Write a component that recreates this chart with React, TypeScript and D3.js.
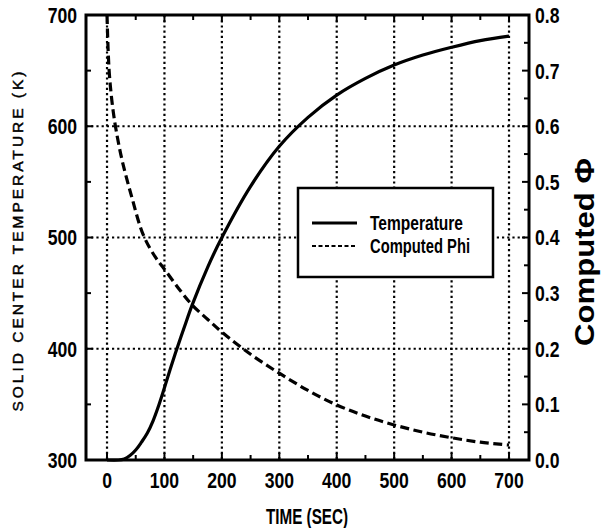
import { useLayoutEffect, useMemo } from 'react';
import * as d3 from 'd3';

// Temperature history (time in s, K)
const tempTime = [0, 20, 30, 40, 50, 60, 70, 80, 90, 100, 110, 122, 135, 148, 175, 200, 250, 300, 350, 400, 450, 500, 550, 600, 650, 700];
const tempValue = [300, 300, 301, 304, 309, 316, 324, 335, 349, 365, 381.5, 400.5, 420, 439, 473, 500, 546, 582, 608, 628, 643, 655, 664, 671, 677, 681];

// Computed phi history
const phiTime = [0, 2, 4, 7, 11, 16, 26, 43, 63, 84, 100, 125, 148, 175, 200, 250, 300, 350, 400, 450, 500, 550, 600, 650, 700];
const phiValue = [0.8, 0.735, 0.695, 0.66, 0.625, 0.592, 0.54, 0.473, 0.405, 0.365, 0.343, 0.308, 0.279, 0.253, 0.23, 0.19, 0.156, 0.125, 0.099, 0.079, 0.063, 0.05, 0.04, 0.032, 0.027];

const xTicks = [0, 100, 200, 300, 400, 500, 600, 700];
const xMinor = [50, 150, 250, 350, 450, 550, 650];
const tTicks = [300, 400, 500, 600, 700];
const tMinor = [350, 450, 550, 650];
const tGrid = [400, 500, 600];
const phiTicks = [0, 0.1, 0.2, 0.3, 0.4, 0.5, 0.6, 0.7, 0.8];
const phiMinor = [0.05, 0.15, 0.25, 0.35, 0.45, 0.55, 0.65, 0.75];

const legendItems = [
  { label: 'Temperature', dash: 'none', len: 93 },
  { label: 'Computed Phi', dash: '4 2.5', len: 100 },
];

const W = 605;
const H = 528;
const L = 86;
const R = 529;
const T = 15;
const B = 460;

const SANS = '"Liberation Sans", Arial, sans-serif';

// bold sans squeezed horizontally, stands in for the narrow plotter font
function Cond({ x, y, anchor, size = 22, sx = 0.8, children }: { x: number; y: number; anchor: 'start' | 'middle' | 'end'; size?: number; sx?: number; children: string }) {
  return (
    <text
      transform={`translate(${x},${y}) scale(${sx},1)`}
      textAnchor={anchor}
      dy="0.36em"
      fontFamily={SANS}
      fontWeight="bold"
      fontSize={size}
    >
      {children}
    </text>
  );
}

export default function App() {
  useLayoutEffect(() => {
    document.body.style.margin = '0';
  }, []);

  const { x, yT, yP, tempPath, phiPath } = useMemo(() => {
    const x = d3.scaleLinear().domain([-36.6, 734.8]).range([L, R]);
    const yT = d3.scaleLinear().domain([300, 700]).range([B, T]);
    const yP = d3.scaleLinear().domain([0, 0.8]).range([B, T]);
    const tempLine = d3
      .line<number>()
      .x((_, i) => x(tempTime[i]))
      .y((d) => yT(d))
      .curve(d3.curveCatmullRom.alpha(0.5));
    const phiLine = d3
      .line<number>()
      .x((_, i) => x(phiTime[i]))
      .y((d) => yP(d))
      .curve(d3.curveCatmullRom.alpha(0.5));
    return {
      x,
      yT,
      yP,
      tempPath: tempLine(tempValue) ?? '',
      phiPath: phiLine(phiValue) ?? '',
    };
  }, []);

  const grid = { stroke: '#000', strokeWidth: 2.2, strokeDasharray: '2.2 3' };

  return (
    <svg width={W} height={H} style={{ display: 'block', background: '#fff' }}>
      {/* gridlines */}
      {xTicks.map((v) => (
        <line key={'gx' + v} x1={x(v)} x2={x(v)} y1={T} y2={B} {...grid} />
      ))}
      {tGrid.map((v) => (
        <line key={'gy' + v} x1={L} x2={R} y1={yT(v)} y2={yT(v)} {...grid} />
      ))}

      {/* ticks, all pointing inward */}
      {xTicks.concat(xMinor).map((v) => {
        const len = xTicks.includes(v) ? 7 : 5;
        return (
          <g key={'tx' + v} stroke="#000" strokeWidth={2}>
            <line x1={x(v)} x2={x(v)} y1={B} y2={B - len} />
            <line x1={x(v)} x2={x(v)} y1={T} y2={T + len} />
          </g>
        );
      })}
      {tTicks.concat(tMinor).map((v) => (
        <line key={'ty' + v} x1={L} x2={L + (tTicks.includes(v) ? 7 : 5)} y1={yT(v)} y2={yT(v)} stroke="#000" strokeWidth={2} />
      ))}
      {phiTicks.concat(phiMinor).map((v) => (
        <line key={'tp' + v} x1={R} x2={R - (phiTicks.includes(v) ? 7 : 5)} y1={yP(v)} y2={yP(v)} stroke="#000" strokeWidth={2} />
      ))}

      {/* curves */}
      <path d={tempPath} fill="none" stroke="#000" strokeWidth={3.2} />
      <path d={phiPath} fill="none" stroke="#000" strokeWidth={3.2} strokeDasharray="9 4.5" />

      {/* frame */}
      <rect x={L} y={T} width={R - L} height={B - T} fill="none" stroke="#000" strokeWidth={3} />

      {/* tick labels */}
      {xTicks.map((v) => (
        <Cond key={'lx' + v} x={x(v)} y={480} anchor="middle">
          {String(v)}
        </Cond>
      ))}
      {tTicks.map((v) => (
        <Cond key={'lt' + v} x={77} y={yT(v)} anchor="end">
          {String(v)}
        </Cond>
      ))}
      {phiTicks.map((v) => (
        <Cond key={'lp' + v} x={535} y={yP(v)} anchor="start">
          {v.toFixed(1)}
        </Cond>
      ))}

      {/* axis titles */}
      <text
        x={307}
        y={524}
        textAnchor="middle"
        fontFamily={SANS}
        fontWeight="bold"
        fontSize={22}
        textLength={82}
        lengthAdjust="spacingAndGlyphs"
      >
        TIME (SEC)
      </text>
      <text
        transform={`translate(23, ${(T + B) / 2 + 4}) rotate(-90)`}
        textAnchor="middle"
        fontFamily={SANS}
        fontSize={15.5}
        stroke="#000"
        strokeWidth={0.45}
        textLength={340}
        lengthAdjust="spacing"
      >
        SOLID CENTER TEMPERATURE (K)
      </text>
      <text
        transform={`translate(594, 252) rotate(-90)`}
        textAnchor="middle"
        fontFamily={SANS}
        fontWeight="bold"
        fontSize={28}
        textLength={188}
        lengthAdjust="spacingAndGlyphs"
      >
        Computed Φ
      </text>

      {/* legend */}
      <rect x={298} y={188} width={195} height={89} fill="#fff" stroke="#000" strokeWidth={2.5} />
      {legendItems.map((d, i) => {
        const cy = 223 + i * 23;
        return (
          <g key={d.label}>
            <line x1={312} x2={357} y1={cy} y2={cy} stroke="#000" strokeWidth={d.dash === 'none' ? 3 : 2.2} strokeDasharray={d.dash} />
            <text
              x={370}
              y={cy}
              dy="0.36em"
              fontFamily={SANS}
              fontWeight="bold"
              fontSize={19.5}
              textLength={d.len}
              lengthAdjust="spacingAndGlyphs"
            >
              {d.label}
            </text>
          </g>
        );
      })}
    </svg>
  );
}
